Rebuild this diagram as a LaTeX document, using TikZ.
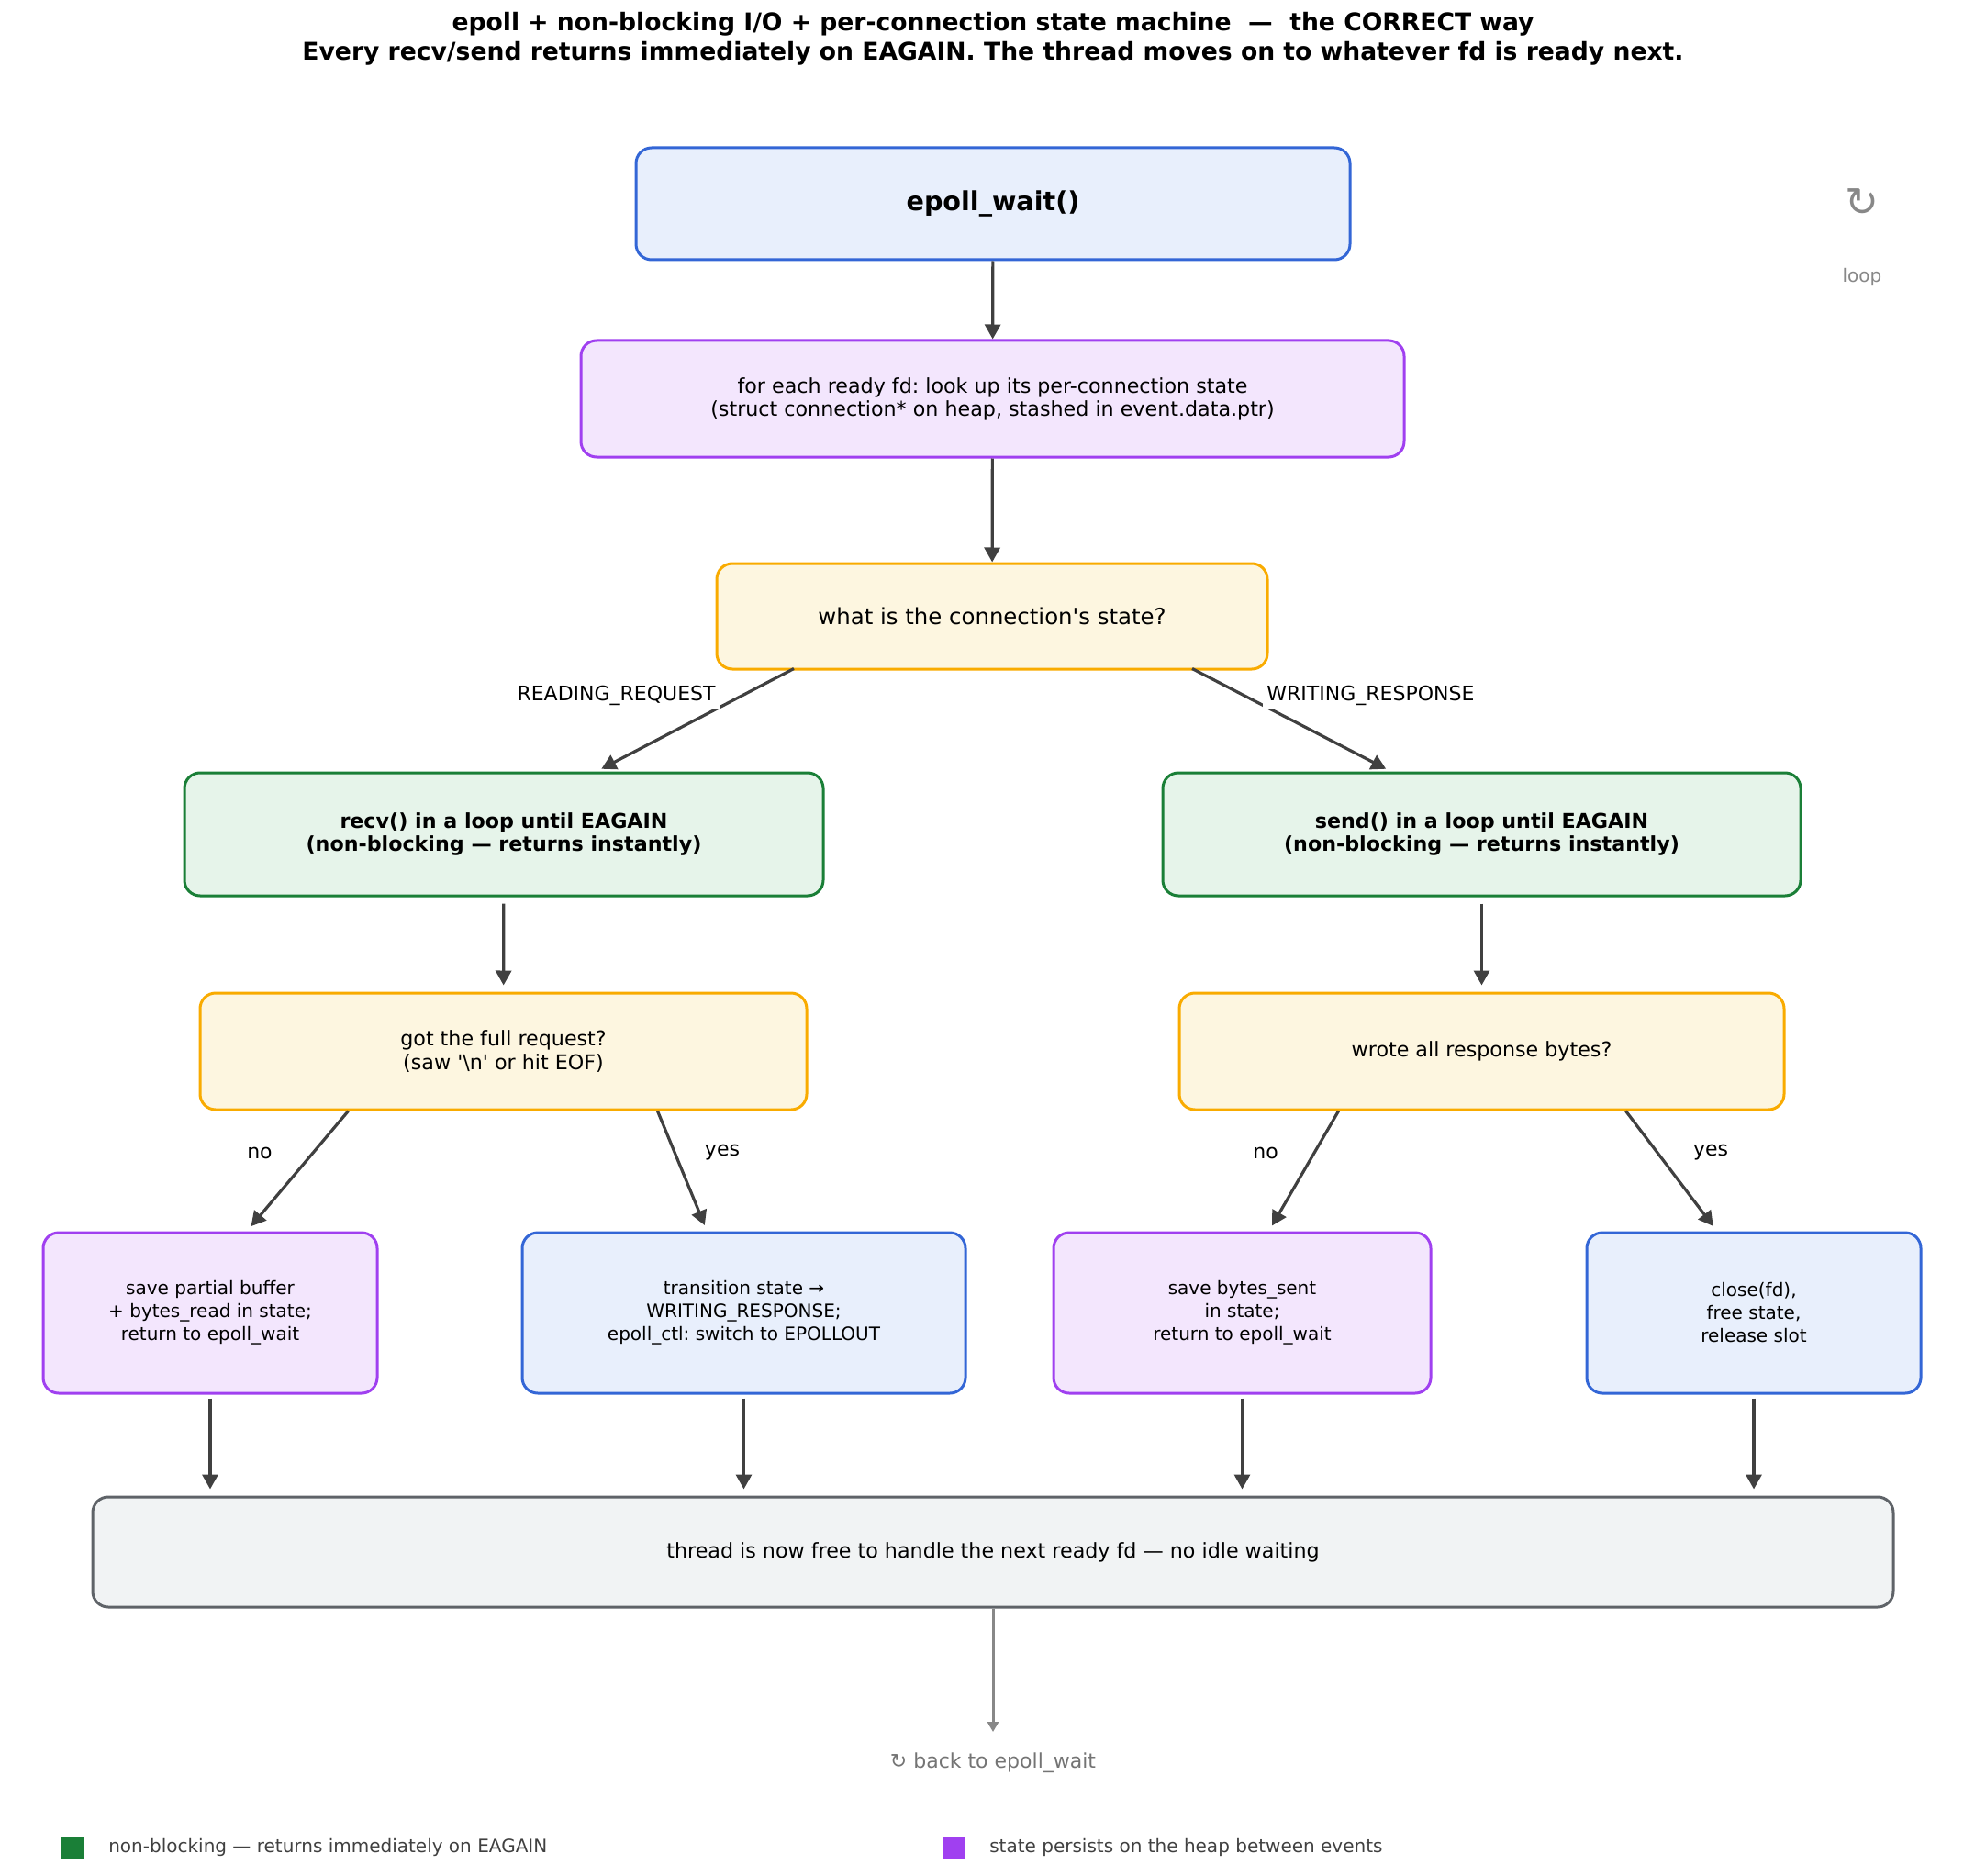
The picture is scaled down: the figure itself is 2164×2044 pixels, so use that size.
\documentclass[tikz,border=0pt]{standalone}
\usepackage{fontspec}
\setmainfont{DejaVu Sans}
\usepackage{tikz}
\usetikzlibrary{positioning}
\usetikzlibrary{arrows.meta}

\definecolor{cblue}{RGB}{51,102,214}
\definecolor{cbluefill}{RGB}{232,239,252}
\definecolor{cpurple}{RGB}{160,64,240}
\definecolor{cpurplefill}{RGB}{243,230,253}
\definecolor{camber}{RGB}{249,171,0}
\definecolor{camberfill}{RGB}{253,246,224}
\definecolor{cgreen}{RGB}{26,127,55}
\definecolor{cgreenfill}{RGB}{230,244,234}
\definecolor{cgray}{RGB}{95,99,104}
\definecolor{cgrayfill}{RGB}{241,243,244}
\definecolor{carrow}{RGB}{64,64,64}
\definecolor{cback}{RGB}{136,136,136}

\begin{document}
\frenchspacing
\begin{tikzpicture}[x=0.5pt, y=-0.5pt,
    box/.style={draw, rounded corners=8.5pt, line width=1.5pt, align=center, inner sep=0pt},
    bluebox/.style={box, draw=cblue, fill=cbluefill},
    purplebox/.style={box, draw=cpurple, fill=cpurplefill},
    amberbox/.style={box, draw=camber, fill=camberfill},
    greenbox/.style={box, draw=cgreen, fill=cgreenfill},
    graybox/.style={box, draw=cgray, fill=cgrayfill},
    flow/.style={-{Triangle[length=8pt,width=8.5pt]}, line width=1.6pt, draw=carrow},
    lbl/.style={font=\fontsize{11}{13}\selectfont, inner sep=2pt},
    small/.style={font=\fontsize{10}{12.5}\selectfont},
    mid/.style={font=\fontsize{11.1}{12.6}\selectfont}]
  \useasboundingbox (0,0) rectangle (2164,2044);

  % Title
  \node[font=\bfseries\fontsize{13.3}{16}\selectfont, align=center] (title) at (1082,42)
    {epoll + non-blocking I/O + per-connection state machine\ \ —\ \ the CORRECT way\\
     Every recv/send returns immediately on EAGAIN. The thread moves on to whatever fd is ready next.};

  % Loop marker
  \node[text=cback, font=\fontsize{22}{24}\selectfont] (loopicon) at (2029,221) {↻};
  \node[text=cback, font=\fontsize{10}{12}\selectfont] (looplbl) at (2029,302) {loop};

  % Boxes
  \node[bluebox, minimum width=389pt, minimum height=61pt, font=\bfseries\fontsize{14.3}{16}\selectfont]
    (wait) at (1082,222) {epoll\_wait()};
  \node[purplebox, minimum width=448.5pt, minimum height=63.5pt, mid]
    (ready) at (1081.5,434.5) {for each ready fd: look up its per-connection state\\(struct connection* on heap, stashed in event.data.ptr)};
  \node[amberbox, minimum width=300pt, minimum height=57.5pt, font=\fontsize{12.2}{14}\selectfont]
    (state) at (1081,671.5) {what is the connection\textquotesingle s state?};
  \node[greenbox, minimum width=348pt, minimum height=67pt, font=\bfseries\fontsize{11.1}{12.4}\selectfont]
    (recv) at (549,909) {recv() in a loop until EAGAIN\\(non-blocking — returns instantly)};
  \node[greenbox, minimum width=347.5pt, minimum height=67pt, font=\bfseries\fontsize{11.1}{12.4}\selectfont]
    (send) at (1614.5,909) {send() in a loop until EAGAIN\\(non-blocking — returns instantly)};
  \node[amberbox, minimum width=330.5pt, minimum height=63.5pt, mid]
    (gotreq) at (548.5,1145.5) {got the full request?\\(saw \textquotesingle\textbackslash n\textquotesingle{} or hit EOF)};
  \node[amberbox, minimum width=329.5pt, minimum height=63.5pt, mid]
    (wrote) at (1614.5,1145.5) {wrote all response bytes?};
  \node[purplebox, minimum width=182pt, minimum height=87.5pt, small]
    (savebuf) at (229,1430.5) {save partial buffer\\+ bytes\_read in state;\\return to epoll\_wait};
  \node[bluebox, minimum width=241.5pt, minimum height=87.5pt, small]
    (trans) at (810.5,1430.5) {transition state →\\WRITING\_RESPONSE;\\epoll\_ctl: switch to EPOLLOUT};
  \node[purplebox, minimum width=205.5pt, minimum height=87.5pt, small]
    (savesent) at (1353.5,1430.5) {save bytes\_sent\\in state;\\return to epoll\_wait};
  \node[bluebox, minimum width=182pt, minimum height=87.5pt, small]
    (closefd) at (1911,1430.5) {close(fd),\\free state,\\release slot};
  \node[graybox, minimum width=981pt, minimum height=60pt, mid]
    (free) at (1082,1691) {thread is now free to handle the next ready fd — no idle waiting};

  % Arrows
  \draw[flow] (wait) -- (ready);
  \draw[flow] (ready) -- (state);
  \draw[flow, shorten >=3pt] ([xshift=-108pt,yshift=1pt]state.south) -- ([xshift=50.5pt]recv.north);
  \draw[flow, shorten >=3pt] ([xshift=109pt,yshift=1pt]state.south) -- ([xshift=-49.5pt]send.north);
  \draw[flow, shorten <=3.5pt, shorten >=3.5pt] (recv) -- (gotreq);
  \draw[flow, shorten <=3.5pt, shorten >=3.5pt] (send) -- (wrote);
  \draw[flow, shorten >=3.5pt] ([xshift=-84.5pt]gotreq.south) -- ([xshift=20pt]savebuf.north);
  \draw[flow, shorten >=3.5pt] ([xshift=84pt]gotreq.south) -- ([xshift=-20pt]trans.north);
  \draw[flow, shorten >=3.5pt] ([xshift=-78pt]wrote.south) -- ([xshift=14.5pt]savesent.north);
  \draw[flow, shorten >=3.5pt] ([xshift=78.5pt]wrote.south) -- ([xshift=-20pt]closefd.north);
  \foreach \b in {savebuf,trans,savesent,closefd}
    \draw[flow, shorten <=2pt, shorten >=3.5pt] (\b.south) -- (\b.south |- free.north);

  % Arrow labels
  \node[lbl, fill=white, anchor=east] (lread) at (784,758) {READING\_REQUEST};
  \node[lbl, fill=white, anchor=west] (lwrite) at (1376,758) {WRITING\_RESPONSE};
  \node[lbl] (lno1) at (283,1256) {no};
  \node[lbl] (lyes1) at (787,1256) {yes};
  \node[lbl] (lno2) at (1379,1256) {no};
  \node[lbl] (lyes2) at (1864,1256) {yes};

  % Back to the top
  \coordinate (backend) at (1082,1887);
  \draw[-{Triangle[length=5.5pt,width=6pt]}, line width=1.5pt, draw=cback] (free.south) -- (backend);
  \node[text=cback!85!black, font=\fontsize{11}{13}\selectfont] (back) at (1082,1921) {↻ back to epoll\_wait};

  % Legend
  \node[fill=cgreen, minimum size=12.5pt, inner sep=0pt] (leggrn) at (79,2013) {};
  \node[right=13pt of leggrn, inner sep=0pt, text=carrow, font=\fontsize{10}{12}\selectfont] (leggrntxt)
    {non-blocking — returns immediately on EAGAIN};
  \node[fill=cpurple, minimum size=12.5pt, inner sep=0pt] (legpur) at (1039,2013) {};
  \node[right=13pt of legpur, inner sep=0pt, text=carrow, font=\fontsize{10}{12}\selectfont] (legpurtxt)
    {state persists on the heap between events};
\end{tikzpicture}
\end{document}
